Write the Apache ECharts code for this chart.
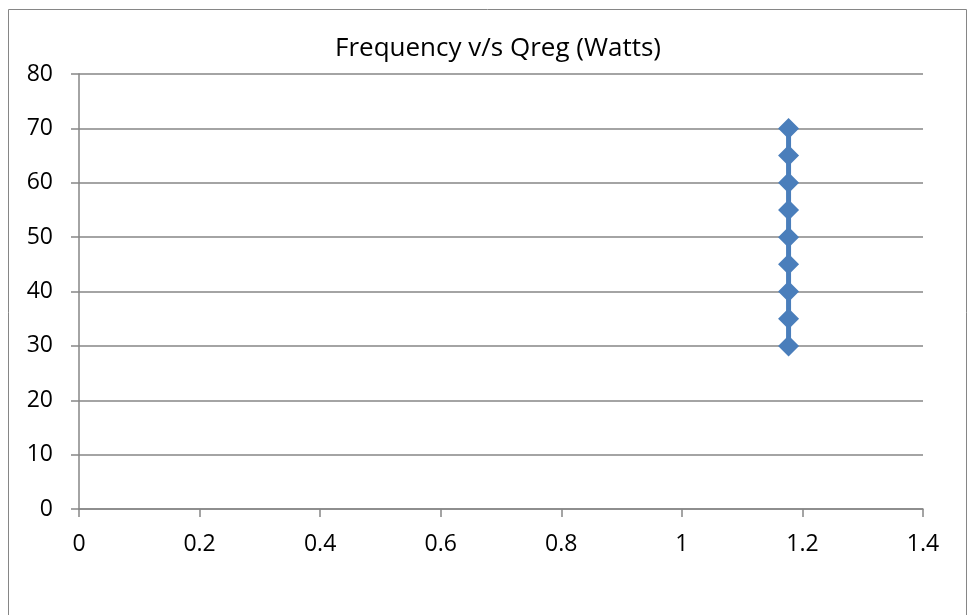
<!DOCTYPE html>
<html>
<head>
<meta charset="utf-8">
<script src="https://cdn.jsdelivr.net/npm/echarts@6/dist/echarts.min.js"></script>
<style>
  html, body { margin: 0; padding: 0; background: #fff; }
  #chart { width: 970px; height: 615px; }
</style>
</head>
<body>
<div id="chart"></div>
<script>
// data
var qreg = [1.177, 1.177, 1.177, 1.177, 1.177, 1.177, 1.177, 1.177, 1.177];
var frequency = [30, 35, 40, 45, 50, 55, 60, 65, 70];
var titleText = 'Frequency v/s Qreg (Watts)';

var points = qreg.map(function (q, i) {
    return [q, frequency[i]];
});

var axisGray = '#868686';
var fontName = '"Open Sans", sans-serif';

var chart = echarts.init(document.getElementById('chart'));

var option = {
    animation: false,
    backgroundColor: '#fff',
    title: {
        text: titleText,
        left: 493,
        top: 31,
        textAlign: 'center',
        textStyle: {
            fontFamily: fontName,
            fontSize: 26,
            fontWeight: 'normal',
            color: '#000'
        }
    },
    graphic: [{
        type: 'rect',
        shape: { x: 8.5, y: 9.5, width: 958, height: 640 },
        style: { fill: 'none', stroke: axisGray, lineWidth: 1 },
        silent: true
    }],
    grid: {
        left: 79,
        right: 47,
        top: 74,
        bottom: 106
    },
    xAxis: {
        type: 'value',
        min: 0,
        max: 1.4,
        interval: 0.2,
        axisLine: { show: true, onZero: false, lineStyle: { color: axisGray, width: 1.5 } },
        axisTick: { show: true, inside: false, length: 8, lineStyle: { color: axisGray, width: 1.5 } },
        splitLine: { show: false },
        axisLabel: {
            margin: 24,
            fontFamily: fontName,
            fontSize: 23,
            color: '#000'
        }
    },
    yAxis: {
        type: 'value',
        min: 0,
        max: 80,
        interval: 10,
        axisLine: { show: true, lineStyle: { color: axisGray, width: 1.5 } },
        axisTick: { show: true, inside: false, length: 8, lineStyle: { color: axisGray, width: 1.5 } },
        splitLine: { show: true, lineStyle: { color: axisGray, width: 1.5 } },
        axisLabel: {
            margin: 26,
            fontFamily: fontName,
            fontSize: 23,
            color: '#000'
        }
    },
    series: [{
        type: 'line',
        data: points,
        symbol: 'diamond',
        symbolSize: [21, 21],
        showSymbol: true,
        lineStyle: { color: '#4A7EBB', width: 5 },
        itemStyle: { color: '#4A7EBB', borderWidth: 0 }
    }]
};

chart.setOption(option);
</script>
</body>
</html>
